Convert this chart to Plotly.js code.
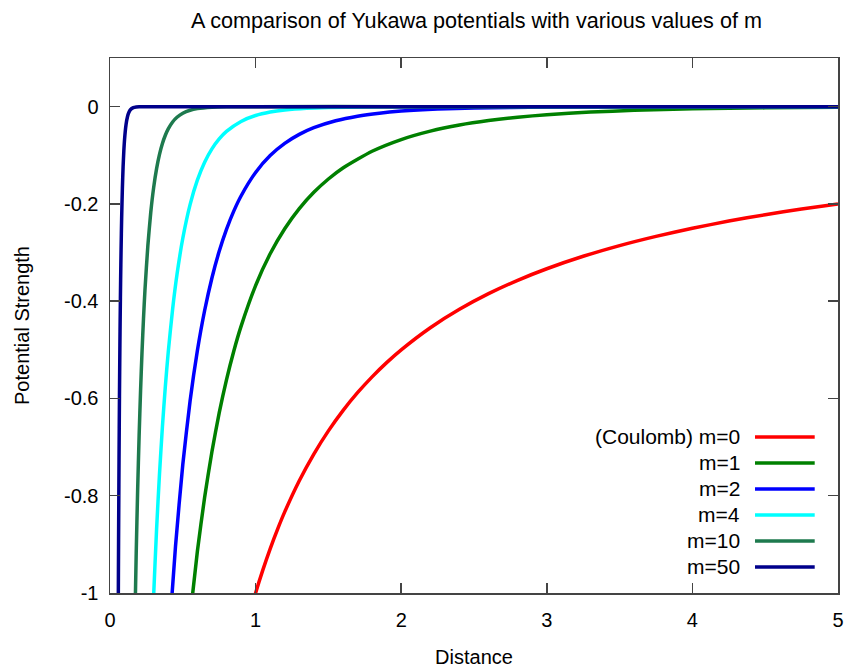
<!DOCTYPE html>
<html>
<head>
<meta charset="utf-8">
<script src="https://cdn.plot.ly/plotly-3.0.1.min.js"></script>
<style>body{margin:0;padding:0;background:#fff}#chart{width:844px;height:670px}</style>
</head>
<body>
<div id="chart"></div>
<script>
// Series names and colours
const seriesNames = ["(Coulomb) m=0", "m=1", "m=2", "m=4", "m=10", "m=50"];
const seriesColors = ["#ff0000", "#008000", "#0000ff", "#00ffff", "#1e7a4e", "#00008b"];

// m=0 (Coulomb)
const xM0 = [0.95, 1, 1.05, 1.1, 1.15, 1.2, 1.3, 1.4, 1.5, 1.6, 1.7, 1.8, 1.9, 2, 2.2, 2.4, 2.6, 2.8, 3, 3.25, 3.5, 3.75, 4, 4.25, 4.5, 4.75, 5];
const yM0 = [-1.0526, -1, -0.9524, -0.9091, -0.8696, -0.8333, -0.7692, -0.7143, -0.6667, -0.625, -0.5882, -0.5556, -0.5263, -0.5, -0.4545, -0.4167, -0.3846, -0.3571, -0.3333, -0.3077, -0.2857, -0.2667, -0.25, -0.2353, -0.2222, -0.2105, -0.2];

// m=1
const xM1 = [0.55, 0.6, 0.65, 0.7, 0.75, 0.8, 0.85, 0.9, 1.0, 1.1, 1.2, 1.3, 1.4, 1.5, 1.6, 1.8, 2.0, 2.2, 2.4, 2.6, 2.8, 3.0, 3.3, 3.6, 4.0, 4.5, 5];
const yM1 = [-1.049, -0.9147, -0.8031, -0.7094, -0.6298, -0.5617, -0.5028, -0.4518, -0.3679, -0.3026, -0.2510, -0.2096, -0.1761, -0.1488, -0.1262, -0.0918, -0.0677, -0.0504, -0.0378, -0.0286, -0.0217, -0.0166, -0.0112, -0.0076, -0.0046, -0.0025, -0.0013];

// m=2
const xM2 = [0.42, 0.45, 0.5, 0.55, 0.6, 0.65, 0.7, 0.75, 0.8, 0.85, 0.9, 1.0, 1.1, 1.2, 1.3, 1.4, 1.55, 1.7, 1.85, 2.0, 2.25, 2.5, 3, 3.5, 4, 5];
const yM2 = [-1.028, -0.9035, -0.7358, -0.6053, -0.5020, -0.4192, -0.3523, -0.2975, -0.2524, -0.2149, -0.1837, -0.1353, -0.1007, -0.0756, -0.0571, -0.0434, -0.0291, -0.0196, -0.0134, -0.0092, -0.0049, -0.0027, -0.0008, -0.0003, -0.0001, 0];

// m=4
const xM4 = [0.28, 0.3, 0.32, 0.34, 0.36, 0.38, 0.4, 0.43, 0.46, 0.5, 0.55, 0.6, 0.65, 0.7, 0.75, 0.8, 0.9, 1.0, 1.1, 1.2, 1.35, 1.5, 1.75, 2, 3, 5];
const yM4 = [-1.1654, -1.004, -0.8688, -0.7549, -0.6581, -0.5755, -0.5047, -0.4165, -0.3453, -0.2707, -0.2015, -0.1512, -0.1143, -0.0869, -0.0664, -0.0510, -0.0304, -0.0183, -0.0112, -0.0069, -0.0033, -0.0017, -0.0005, -0.0002, 0, 0];

// m=10
const xM10 = [0.17, 0.18, 0.19, 0.2, 0.21, 0.22, 0.23, 0.24, 0.26, 0.28, 0.3, 0.32, 0.34, 0.36, 0.38, 0.4, 0.43, 0.46, 0.5, 0.55, 0.6, 0.7, 0.8, 1, 2, 5];
const yM10 = [-1.0747, -0.9183, -0.7873, -0.6767, -0.5833, -0.5036, -0.4361, -0.3780, -0.2857, -0.2172, -0.1660, -0.1274, -0.0981, -0.0758, -0.0589, -0.0458, -0.0316, -0.0219, -0.0135, -0.0074, -0.0041, -0.0013, -0.0004, 0, 0, 0];

// m=50
const xM50 = [0.055, 0.058, 0.06, 0.062, 0.065, 0.068, 0.07, 0.073, 0.076, 0.08, 0.085, 0.09, 0.095, 0.1, 0.11, 0.12, 0.13, 0.14, 0.16, 0.18, 0.2, 0.3, 1, 5];
const yM50 = [-1.162, -0.9484, -0.8298, -0.7262, -0.5970, -0.4906, -0.4315, -0.3558, -0.2944, -0.2289, -0.1677, -0.1234, -0.0911, -0.0674, -0.0372, -0.0207, -0.0116, -0.0065, -0.0021, -0.0007, -0.0002, 0, 0, 0];

// Tick labels
const xTickVals = [0, 1, 2, 3, 4, 5];
const xTickText = ["0", "1", "2", "3", "4", "5"];
const yTickVals = [-1, -0.8, -0.6, -0.4, -0.2, 0];
const yTickText = ["-1", "-0.8", "-0.6", "-0.4", "-0.2", "0"];

const xs = [xM0, xM1, xM2, xM4, xM10, xM50];
const ys = [yM0, yM1, yM2, yM4, yM10, yM50];

const FONT = "Liberation Sans, Arial, sans-serif";

const traces = xs.map((x, i) => ({
  x: x, y: ys[i], type: "scatter", mode: "lines", name: seriesNames[i],
  line: {color: seriesColors[i], width: 3.5, shape: "spline", smoothing: 0.6},
  showlegend: false, hoverinfo: "skip"
}));

// gnuplot-style key: text on the left, sample line on the right
const keyTop = 0.2916, keyStep = 0.0486;
const annotations = seriesNames.map((n, i) => ({
  xref: "paper", yref: "paper", x: 0.868, y: keyTop - i * keyStep,
  xanchor: "right", yanchor: "middle", text: n, showarrow: false,
  font: {family: FONT, size: 21, color: "#000"}
}));
const shapes = seriesColors.map((c, i) => ({
  type: "line", xref: "paper", yref: "paper",
  x0: 0.886, x1: 0.968, y0: keyTop - i * keyStep, y1: keyTop - i * keyStep,
  line: {color: c, width: 3.5}
}));

const axisCommon = {
  showgrid: false, zeroline: false, showline: true, linecolor: "#444", linewidth: 1.5,
  mirror: "ticks", ticks: "inside", ticklen: 10, tickwidth: 1.5, tickcolor: "#444",
  tickfont: {family: FONT, size: 20, color: "#000"}
};

const layout = {
  width: 844, height: 670,
  margin: {l: 110, r: 6, t: 58, b: 77},
  paper_bgcolor: "#fff", plot_bgcolor: "#fff",
  font: {family: FONT, size: 20, color: "#000"},
  title: {text: "A comparison of Yukawa potentials with various values of m",
          font: {family: FONT, size: 21.6, color: "#000"}, x: 0.5645, xanchor: "center", y: 0.970, yanchor: "middle"},
  xaxis: Object.assign({}, axisCommon, {
    range: [0, 5], tickvals: xTickVals, ticktext: xTickText, ticklabelstandoff: 8,
    title: {text: "Distance", font: {family: FONT, size: 20, color: "#000"}, standoff: 20}
  }),
  yaxis: Object.assign({}, axisCommon, {
    range: [-1, 0.1], tickvals: yTickVals, ticktext: yTickText, ticklabelstandoff: 6,
    title: {text: "Potential Strength", font: {family: FONT, size: 20, color: "#000"}, standoff: 29}
  }),
  annotations: annotations,
  shapes: shapes,
  showlegend: false
};

Plotly.newPlot("chart", traces, layout, {displayModeBar: false, staticPlot: true});
</script>
</body>
</html>
